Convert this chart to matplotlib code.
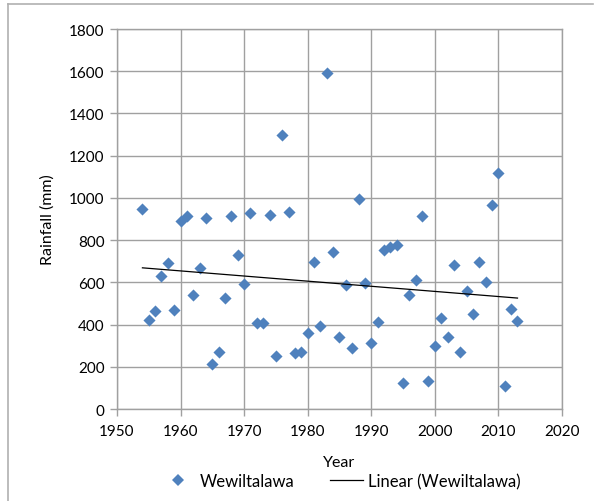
import numpy as np
import matplotlib
matplotlib.use("Agg")
import matplotlib.pyplot as plt
from matplotlib.lines import Line2D

plt.rcParams['font.family'] = ['Lato', 'DejaVu Sans']

years = list(range(1954, 2014))
rainfall = [947, 423, 466, 632, 692, 470, 892, 913, 542, 668,
            905, 213, 272, 526, 916, 730, 592, 927, 407, 407,
            919, 249, 1300, 932, 264, 272, 358, 695, 395, 1590,
            742, 340, 589, 287, 993, 595, 311, 411, 753, 766,
            777, 122, 542, 613, 913, 134, 300, 430, 343, 684,
            272, 561, 450, 698, 600, 966, 1116, 111, 474, 418]
x_ticks = [1950, 1960, 1970, 1980, 1990, 2000, 2010, 2020]
y_ticks = [0, 200, 400, 600, 800, 1000, 1200, 1400, 1600, 1800]
series_name = "Wewiltalawa"

fig = plt.figure(figsize=(6.03, 5.02), dpi=100)
ax = fig.add_axes([117/603, 1 - 410/502, (562-117)/603, (410-30)/502])

grid_c = '#a0a0a0'
blue = '#4F81BD'

ax.scatter(years, rainfall, marker='D', s=38, color=blue, zorder=3,
           linewidths=0)
coef = np.polyfit(years, rainfall, 1)
xs = np.array([years[0], years[-1]])
ax.plot(xs, np.polyval(coef, xs), color='black', lw=0.9, zorder=4)

ax.set_xlim(1950, 2020)
ax.set_ylim(0, 1800)
ax.set_xticks(x_ticks)
ax.set_yticks(y_ticks)
ax.grid(True, color=grid_c, lw=1.0)
ax.set_axisbelow(True)
for s in ax.spines.values():
    s.set_color(grid_c)
    s.set_linewidth(1.0)
ax.tick_params(axis='both', colors=grid_c, labelcolor='black',
               labelsize=11, length=5, width=1.0, direction='out')
ax.tick_params(axis='x', pad=6)
ax.tick_params(axis='y', pad=4)

ax.set_xlabel("Year", fontsize=11.5, labelpad=12)
ax.set_ylabel("Rainfall (mm)", fontsize=11.5, labelpad=10)

handles = [Line2D([], [], marker='D', ls='none', color=blue, markersize=6,
                  markeredgewidth=0),
           Line2D([], [], color='black', lw=0.9)]
fig.legend(handles, [series_name, f"Linear ({series_name})"],
           loc='center', bbox_to_anchor=(341/603, 1 - 482/502), ncol=2,
           frameon=False, fontsize=12, handlelength=2.0, columnspacing=2.1,
           handletextpad=0.33, borderpad=0, borderaxespad=0)

# chart area border
fig.add_artist(Line2D([8/603, 8/603], [0, 1 - 5/502], transform=fig.transFigure,
                      color='#b0b0b0', lw=1.2))
fig.add_artist(Line2D([8/603, 593/603], [1 - 5/502, 1 - 5/502],
                      transform=fig.transFigure, color='#b0b0b0', lw=1.2))

fig.savefig("out.png", dpi=100)
